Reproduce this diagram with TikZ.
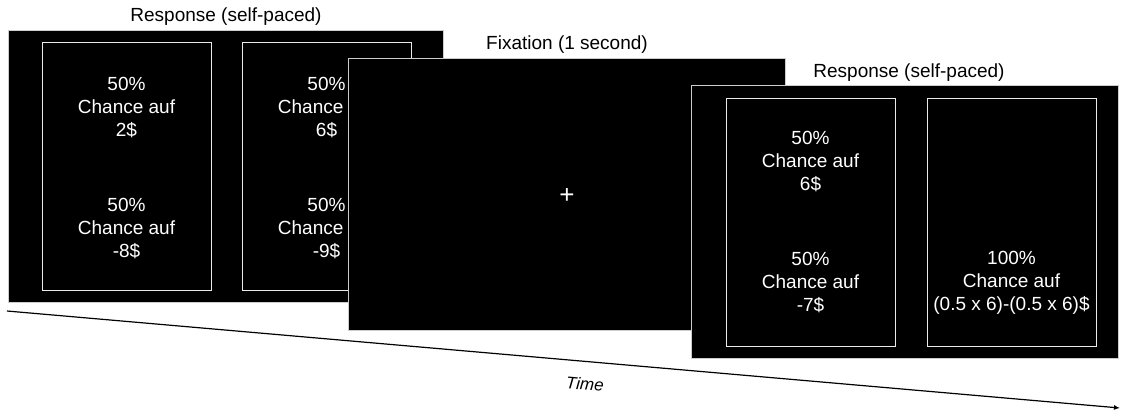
\documentclass[tikz,border=0pt]{standalone}
\usepackage{fontspec}
\setmainfont{Liberation Sans}
\usetikzlibrary{arrows.meta}
\begin{document}
\begin{tikzpicture}[x=1pt,y=-1pt,
  screen/.style={fill=black, draw=black!20, line width=0.8pt, anchor=north west, inner sep=0pt},
  choice/.style={draw=black!8, line width=1pt, anchor=north west, inner sep=0pt, minimum width=169, minimum height=248},
  lbl/.style={font=\fontsize{19}{23}\selectfont, text=white, align=center, inner sep=0pt},
  ttl/.style={font=\fontsize{19}{23}\selectfont, text=black, inner sep=0pt}]
\useasboundingbox (0,0) rectangle (1121,415);
% screen 1
\node[screen, minimum width=435, minimum height=272] (s1) at (8,30) {};
\node[ttl] (t1) at (226,17) {Response (self-paced)};
\node[choice] (a) at (42,42) {};
\node[choice] (b) at (242,42) {};
\node[lbl] (a1) at (126.5,108) {50\%\\Chance auf\\2\$};
\node[lbl] (a2) at (126.5,229) {50\%\\Chance auf\\-8\$};
\node[lbl] (b1) at (326.5,108) {50\%\\Chance auf\\6\$};
\node[lbl] (b2) at (326.5,229) {50\%\\Chance auf\\-9\$};
% screen 2
\node[screen, minimum width=437, minimum height=272] (s2) at (348,58) {};
\node[ttl] (t2) at (567,45) {Fixation (1 second)};
\node[lbl, font=\fontsize{26}{28}\selectfont] (fix) at (567,196) {+};
% screen 3
\node[screen, minimum width=427, minimum height=273] (s3) at (691,85) {};
\node[ttl] (t3) at (909,73) {Response (self-paced)};
\node[choice] (c) at (726,98) {};
\node[choice] (d) at (927,98) {};
\node[lbl] (c1) at (810.5,162) {50\%\\Chance auf\\6\$};
\node[lbl] (c2) at (810.5,283) {50\%\\Chance auf\\-7\$};
\node[lbl] (d2) at (1011.5,283) {100\%\\Chance auf\\(0.5 x 6)-(0.5 x 6)\$};
% time arrow
\coordinate (ts) at (7,311);
\coordinate (te) at (1120,408);
\draw[line width=1.2pt, -{Latex[length=6pt,width=5pt]}] (ts) -- (te);
\node[rotate=-5, font=\fontsize{17}{20}\selectfont\itshape] (time) at (585,384) {Time};
\end{tikzpicture}
\end{document}
